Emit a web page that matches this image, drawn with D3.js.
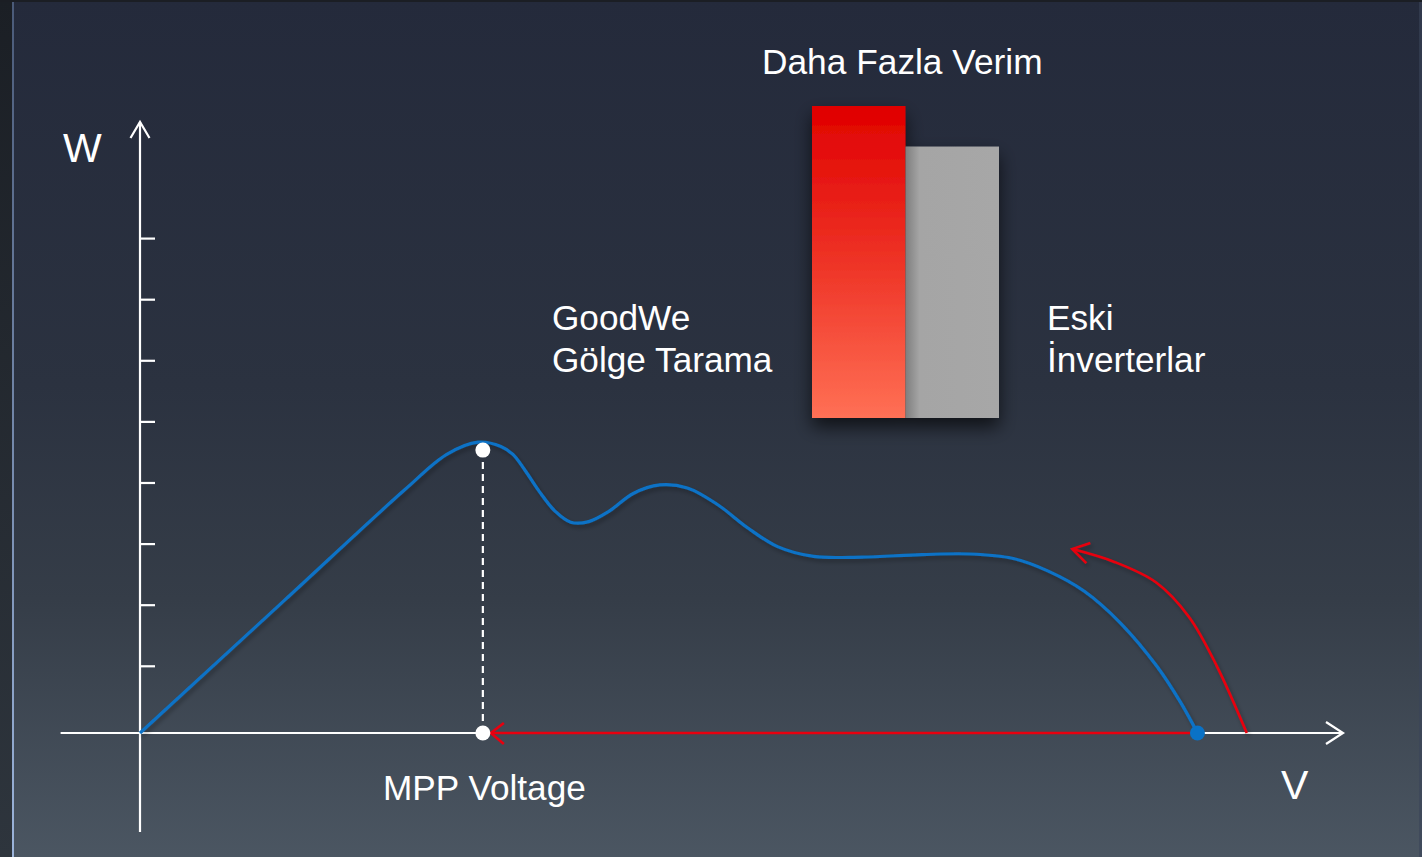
<!DOCTYPE html>
<html>
<head>
<meta charset="utf-8">
<script src="https://cdn.jsdelivr.net/npm/d3@7"></script>
<style>
  body { margin: 0; background: #1e2228; }
  svg { display: block; }
  text { font-family: "Liberation Sans", Arial, sans-serif; fill: #fff; }
</style>
</head>
<body>
<div id="container"></div>
<script>
// P-V curve (V in %, W in % of axis height)
var curveV = [0, 12, 22, 25.5, 28.1, 30.0, 31.0, 32.0, 33.2, 34.5, 35.8, 37.3, 39.0, 41.0, 43.2, 45.5, 48.0, 50.5, 53.0, 56.0, 60, 65, 69, 72.5, 75.5, 78.5, 81.5, 84.5, 86.5, 87.9];
var curveW = [0, 21.7, 39.8, 45.6, 47.6, 46.9, 45.6, 43.0, 39.5, 36.3, 34.5, 34.6, 36.3, 39.2, 40.6, 40.1, 37.4, 33.6, 30.5, 28.9, 28.8, 29.2, 29.3, 28.6, 26.5, 23.2, 18.0, 11.0, 5.0, 0];

// red tracking arrow of old inverters (tip first, start last)
var trackV = [77.5, 81.0, 84.5, 87.2, 89.5, 92.0];
var trackW = [30.1, 28.0, 24.6, 19.0, 11.0, 0];

var mppV = 28.5, mppW = 46.3;
var startV = 87.9;
var yTicks = [11, 21, 31, 41, 51, 61, 71, 81];

var barCats = ["GoodWe", "Eski"];
var barVals = [100, 87];

var width = 1422,
    height = 857

var x = d3.scaleLinear().domain([0, 100]).range([140, 1343]);
var y = d3.scaleLinear().domain([0, 100]).range([733, 122]);

var bx = d3.scaleBand().domain(barCats).range([812, 999]).padding(0);
var by = d3.scaleLinear().domain([0, 100]).range([418, 106]);

var svg = d3.select("div#container").append("svg")
    .attr("width", width)
    .attr("height", height);

var defs = svg.append("defs");

var bg = defs.append("linearGradient").attr("id", "bg")
    .attr("x1", 0).attr("y1", 0).attr("x2", 0).attr("y2", 1);
[[0, "#242a3b"], [0.45, "#2b3240"], [0.7, "#353d48"], [1, "#4b5662"]].forEach(function (s) {
    bg.append("stop").attr("offset", s[0]).attr("stop-color", s[1]);
});

var edge = defs.append("linearGradient").attr("id", "edge")
    .attr("x1", 0).attr("y1", 0).attr("x2", 0).attr("y2", 1);
edge.append("stop").attr("offset", 0).attr("stop-color", "#1b1f25");
edge.append("stop").attr("offset", 1).attr("stop-color", "#2e353d");

var edgeLine = defs.append("linearGradient").attr("id", "edgeLine")
    .attr("x1", 0).attr("y1", 0).attr("x2", 0).attr("y2", 1);
edgeLine.append("stop").attr("offset", 0).attr("stop-color", "#4a5a78");
edgeLine.append("stop").attr("offset", 1).attr("stop-color", "#9cb4da");

var red = defs.append("linearGradient").attr("id", "redBar")
    .attr("x1", 0).attr("y1", 0).attr("x2", 0).attr("y2", 1);
red.append("stop").attr("offset", 0).attr("stop-color", "#e00000");
red.append("stop").attr("offset", 0.5).attr("stop-color", "#ee3326");
red.append("stop").attr("offset", 1).attr("stop-color", "#ff7055");

var grey = defs.append("linearGradient").attr("id", "greyBar")
    .attr("x1", 0).attr("y1", 0).attr("x2", 1).attr("y2", 0);
grey.append("stop").attr("offset", 0).attr("stop-color", "#7e7e7e");
grey.append("stop").attr("offset", 0.15).attr("stop-color", "#a5a5a5");
grey.append("stop").attr("offset", 1).attr("stop-color", "#a7a7a7");

var shadow = defs.append("filter").attr("id", "shadow")
    .attr("x", "-30%").attr("y", "-30%").attr("width", "160%").attr("height", "160%");
shadow.append("feDropShadow").attr("dx", 0).attr("dy", 9).attr("stdDeviation", 9)
    .attr("flood-color", "#000").attr("flood-opacity", 0.65);

var soft = defs.append("filter").attr("id", "soft")
    .attr("x", "-20%").attr("y", "-20%").attr("width", "140%").attr("height", "140%");
soft.append("feDropShadow").attr("dx", 2).attr("dy", 3).attr("stdDeviation", 2)
    .attr("flood-color", "#000").attr("flood-opacity", 0.3);

// background
svg.append("rect").attr("width", width).attr("height", height).attr("fill", "url(#bg)");
svg.append("rect").attr("width", 12).attr("height", height).attr("fill", "url(#edge)");
svg.append("rect").attr("x", 12).attr("width", 2).attr("height", height).attr("fill", "url(#edgeLine)");
svg.append("rect").attr("x", 1419).attr("width", 3).attr("height", height).attr("fill", "#3a4558").attr("opacity", 0.6);
svg.append("rect").attr("width", width).attr("height", 2).attr("fill", "#1b1e24");

// bars
var bars = svg.append("g").attr("filter", "url(#shadow)");
bars.selectAll("rect")
    .data(barVals)
    .enter().append("rect")
    .attr("x", function (d, i) { return bx(barCats[i]); })
    .attr("y", function (d) { return by(d); })
    .attr("width", bx.bandwidth())
    .attr("height", function (d) { return by(0) - by(d); })
    .attr("fill", function (d, i) { return i == 0 ? "url(#redBar)" : "url(#greyBar)"; });

// axes
var axes = svg.append("g").attr("stroke", "#fff").attr("stroke-width", 2.2).attr("fill", "none");
axes.append("line").attr("x1", x(0)).attr("x2", x(0)).attr("y1", y(-16.2)).attr("y2", y(100));
axes.append("line").attr("x1", x(-6.6)).attr("x2", x(100)).attr("y1", y(0)).attr("y2", y(0));
axes.append("path").attr("d", "M" + (x(0) - 9.5) + "," + (y(100) + 16) + "L" + x(0) + "," + y(100) + "L" + (x(0) + 9.5) + "," + (y(100) + 16));
axes.append("path").attr("d", "M" + (x(100) - 17) + "," + (y(0) - 11) + "L" + x(100) + "," + y(0) + "L" + (x(100) - 17) + "," + (y(0) + 11));

var yAxis = d3.axisLeft(y).tickValues(yTicks).tickSize(-15).tickFormat("");
svg.append("g")
    .attr("transform", "translate(" + x(0) + ",0)")
    .call(yAxis)
    .call(function (g) { g.select(".domain").remove(); })
    .selectAll("line").attr("stroke", "#fff").attr("stroke-width", 2.2);

// blue P-V curve
var line = d3.line()
    .x(function (d, i) { return x(curveV[i]); })
    .y(function (d) { return y(d); })
    .curve(d3.curveCatmullRom.alpha(0.5));

svg.append("path")
    .datum(curveW)
    .attr("d", line)
    .attr("fill", "none")
    .attr("stroke", "#0a72c6")
    .attr("stroke-width", 3.2)
    .attr("filter", "url(#soft)");

// MPP dashed drop line
svg.append("line")
    .attr("x1", x(mppV)).attr("x2", x(mppV))
    .attr("y1", y(mppW)).attr("y2", y(0))
    .attr("stroke", "#fff").attr("stroke-width", 2.2)
    .attr("stroke-dasharray", "7,5");

// red scan line back to MPP
var red1 = svg.append("g").attr("stroke", "#e8000f").attr("stroke-width", 2.6).attr("fill", "none");
red1.append("line")
    .attr("x1", x(startV)).attr("x2", x(mppV) + 8)
    .attr("y1", y(0)).attr("y2", y(0));
red1.append("path")
    .attr("d", "M" + (x(mppV) + 21) + "," + (y(0) - 10) + "L" + (x(mppV) + 8) + "," + y(0) + "L" + (x(mppV) + 21) + "," + (y(0) + 11));

// red curved arrow (old inverter tracking)
var trackLine = d3.line()
    .x(function (d, i) { return x(trackV[i]); })
    .y(function (d) { return y(d); })
    .curve(d3.curveCatmullRom.alpha(0.5));

var red2 = svg.append("g").attr("stroke", "#e8000f").attr("stroke-width", 2.6).attr("fill", "none")
    .attr("filter", "url(#soft)");
red2.append("path").datum(trackW).attr("d", trackLine);
var tipX = x(trackV[0]), tipY = y(trackW[0]);
red2.append("path")
    .attr("d", "M" + (tipX + 18) + "," + (tipY - 6) + "L" + tipX + "," + tipY + "L" + (tipX + 14) + "," + (tipY + 14));

// dots
svg.append("circle").attr("cx", x(mppV)).attr("cy", y(mppW)).attr("r", 7.5).attr("fill", "#fff");
svg.append("circle").attr("cx", x(mppV)).attr("cy", y(0)).attr("r", 7.5).attr("fill", "#fff");
svg.append("circle").attr("cx", x(startV)).attr("cy", y(0)).attr("r", 7.5).attr("fill", "#0a72c6");

// labels
svg.append("text").attr("x", 63).attr("y", 162).style("font-size", "41px").text("W");
svg.append("text").attr("x", 1281).attr("y", 799).style("font-size", "41px").text("V");
svg.append("text").attr("x", 383).attr("y", 800).style("font-size", "35.2px").text("MPP Voltage");
svg.append("text").attr("x", 762).attr("y", 74).style("font-size", "35.3px").text("Daha Fazla Verim");

var left = svg.append("text").attr("x", 552).attr("y", 330).style("font-size", "35.2px");
left.append("tspan").attr("x", 552).text("GoodWe");
left.append("tspan").attr("x", 552).attr("dy", 42).text("Gölge Tarama");

var right = svg.append("text").attr("x", 1047).attr("y", 330).style("font-size", "35.2px");
right.append("tspan").attr("x", 1047).text("Eski");
right.append("tspan").attr("x", 1047).attr("dy", 42).text("İnverterlar");
</script>
</body>
</html>
